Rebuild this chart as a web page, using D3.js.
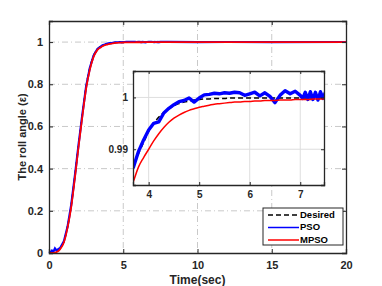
<!DOCTYPE html>
<html>
<head>
<meta charset="utf-8">
<script src="https://cdn.jsdelivr.net/npm/d3@7"></script>
<style>
  body { margin: 0; background: #fff; }
  text { font-family: "Liberation Sans", Arial, sans-serif; }
</style>
</head>
<body>
<div id="chart"></div>
<script>
// time samples (sec)
var time = [0, 0.1, 0.2, 0.3, 0.4, 0.5, 0.75, 1, 1.25, 1.5, 1.75, 2, 2.25, 2.5, 2.75, 3, 3.25, 3.5,
    3.6, 3.7, 3.8, 3.9, 4.0, 4.1, 4.2, 4.3, 4.4, 4.5, 4.6, 4.7, 4.8, 4.9, 5.0, 5.1, 5.2, 5.3, 5.4, 5.5,
    5.6, 5.7, 5.8, 5.9, 6.0, 6.1, 6.2, 6.3, 6.4, 6.5, 6.6, 6.7, 6.8, 6.9, 7.0,
    7.05, 7.1, 7.15, 7.2, 7.25, 7.3, 7.35, 7.4, 7.45, 7.5, 8, 10, 12, 15, 20];

var desired = [0, 0.0002, 0.001, 0.002, 0.004, 0.007, 0.022, 0.055, 0.125, 0.23, 0.37, 0.52, 0.66, 0.79, 0.878, 0.935, 0.966, 0.98,
    0.9840, 0.9866, 0.9892, 0.9913, 0.9935, 0.9950, 0.9962, 0.9971, 0.9978, 0.9984, 0.9988, 0.9991, 0.9993, 0.9995, 0.9996, 0.9997, 0.9997, 0.9998, 0.9998, 0.9998,
    0.9999, 0.9999, 0.9999, 0.9999, 0.9999, 0.9999, 0.9999, 0.9999, 0.9999, 0.9999, 0.9999, 0.9999, 0.9999, 0.9999, 0.9999,
    0.9999, 0.9999, 0.9999, 0.9999, 0.9999, 0.9999, 0.9999, 0.9999, 0.9999, 0.9999, 1, 1, 1, 1, 1];

var pso = [0, 0.004, 0.012, 0.006, 0.022, 0.012, 0.024, 0.055, 0.125, 0.23, 0.37, 0.52, 0.66, 0.79, 0.878, 0.936, 0.966, 0.98,
    0.9848, 0.9866, 0.9896, 0.9918, 0.9937, 0.9950, 0.9953, 0.9970, 0.9979, 0.9986, 0.9992, 0.9994, 0.9999, 0.9991, 0.9999, 1.0005, 1.0006, 1.0008, 1.0007, 1.0009,
    1.0008, 1.0010, 1.0009, 1.0004, 1.0007, 1.0010, 1.0003, 1.0009, 1.0002, 0.9990, 1.0004, 1.0013, 1.0007, 1.0012, 1.0004,
    0.9998, 1.0010, 0.9996, 1.0011, 0.9996, 1.0010, 0.9995, 1.0011, 0.9998, 1.0010, 1.0006, 1.0003, 1.0005, 1.0002, 1.0004];

var mpso = [0, 0, 0.0005, 0.001, 0.002, 0.004, 0.018, 0.05, 0.12, 0.22, 0.36, 0.51, 0.65, 0.78, 0.87, 0.93, 0.962, 0.976,
    0.9805, 0.9838, 0.9866, 0.9884, 0.9900, 0.9916, 0.9930, 0.9942, 0.9952, 0.9960, 0.9966, 0.9971, 0.9975, 0.9978, 0.9981, 0.9983, 0.9985, 0.9987, 0.9988, 0.9989,
    0.9990, 0.9991, 0.9991, 0.9992, 0.9992, 0.9993, 0.9993, 0.9994, 0.9994, 0.9994, 0.9995, 0.9995, 0.9995, 0.9996, 0.9996,
    0.9996, 0.9996, 0.9996, 0.9996, 0.9997, 0.9997, 0.9997, 0.9997, 0.9997, 0.9997, 0.9998, 0.9999, 1, 1, 1];

var xTicks = [0, 5, 10, 15, 20];
var yTicks = [0, 0.2, 0.4, 0.6, 0.8, 1];
var insetXTicks = [4, 5, 6, 7];
var insetYTicks = [0.99, 1];
var legendNames = ["Desired", "PSO", "MPSO"];

var width = 382, height = 286;
var axisColor = "#262626";

var svg = d3.select("#chart")
    .append("svg")
    .attr("width", width)
    .attr("height", height);

// ---- main axes ----
var x = d3.scaleLinear().domain([0, 20]).range([49, 346]);
var y = d3.scaleLinear().domain([0, 1.1]).range([253, 21]);

var seriesAll = time.map(function (t, i) {
    return { t: t, d: desired[i], p: pso[i], m: mpso[i] };
});

// grid (dash-dot)
svg.append("g").selectAll("line")
    .data(xTicks.slice(1, -1))
    .enter().append("line")
    .attr("x1", function (d) { return x(d); }).attr("x2", function (d) { return x(d); })
    .attr("y1", y(1.1)).attr("y2", y(0))
    .attr("stroke", "#c9c9c9").attr("stroke-width", 1)
    .attr("stroke-dasharray", "6,3,1,3");
svg.append("g").selectAll("line")
    .data(yTicks.slice(1))
    .enter().append("line")
    .attr("x1", x(0)).attr("x2", x(20))
    .attr("y1", function (d) { return y(d); }).attr("y2", function (d) { return y(d); })
    .attr("stroke", "#c9c9c9").attr("stroke-width", 1)
    .attr("stroke-dasharray", "6,3,1,3");

function lineFor(key, xs, ys, curve) {
    return d3.line()
        .x(function (d) { return xs(d.t); })
        .y(function (d) { return ys(d[key]); })
        .curve(curve);
}

svg.append("path").datum(seriesAll)
    .attr("d", lineFor("d", x, y, d3.curveMonotoneX))
    .attr("fill", "none").attr("stroke", "#000").attr("stroke-width", 1.5)
    .attr("stroke-dasharray", "5,3");
svg.append("path").datum(seriesAll)
    .attr("d", lineFor("p", x, y, d3.curveLinear))
    .attr("fill", "none").attr("stroke", "#0000ff").attr("stroke-width", 2.2);
svg.append("path").datum(seriesAll)
    .attr("d", lineFor("m", x, y, d3.curveMonotoneX))
    .attr("fill", "none").attr("stroke", "#ff0000").attr("stroke-width", 1.8);

// axes with inward ticks on all sides
svg.append("g").attr("transform", "translate(0," + y(0) + ")")
    .call(d3.axisBottom(x).tickValues(xTicks).tickSize(-4).tickPadding(8).tickFormat(d3.format("d")));
svg.append("g").attr("transform", "translate(0," + y(1.1) + ")")
    .call(d3.axisTop(x).tickValues(xTicks).tickSize(-4).tickFormat(""));
svg.append("g").attr("transform", "translate(" + x(0) + ",0)")
    .call(d3.axisLeft(y).tickValues(yTicks).tickSize(-4).tickPadding(6).tickFormat(function (d) { return d === 0 || d === 1 ? d : d.toFixed(1); }));
svg.append("g").attr("transform", "translate(" + x(20) + ",0)")
    .call(d3.axisRight(y).tickValues(yTicks).tickSize(-4).tickFormat(""));

svg.selectAll(".domain").attr("stroke", axisColor).attr("stroke-width", 1.3);
svg.selectAll(".tick line").attr("stroke", axisColor);
svg.selectAll(".tick text").attr("fill", axisColor)
    .style("font-size", "11px").style("font-weight", "bold")
    .style("font-family", "'Liberation Sans', Arial, sans-serif");

svg.append("text")
    .attr("x", (x(0) + x(20)) / 2).attr("y", 284)
    .attr("text-anchor", "middle")
    .attr("fill", axisColor)
    .style("font-size", "12px").style("font-weight", "bold")
    .text("Time(sec)");

svg.append("text")
    .attr("transform", "translate(26," + ((y(0) + y(1.1)) / 2) + ")rotate(-90)")
    .attr("text-anchor", "middle")
    .attr("fill", axisColor)
    .style("font-size", "11px").style("font-weight", "bold")
    .text("The roll angle (ε)");

// ---- inset ----
var ix = d3.scaleLinear().domain([3.69, 7.47]).range([133, 324]);
var iy = d3.scaleLinear().domain([0.9831, 1.0051]).range([185, 71]);

var inset = svg.append("g");
inset.append("rect")
    .attr("x", 133).attr("y", 71).attr("width", 324 - 133).attr("height", 185 - 71)
    .attr("fill", "#fff");

inset.append("clipPath").attr("id", "insetClip")
    .append("rect")
    .attr("x", 133).attr("y", 71).attr("width", 324 - 133).attr("height", 185 - 71);

inset.append("g").selectAll("line")
    .data(insetXTicks)
    .enter().append("line")
    .attr("x1", function (d) { return ix(d); }).attr("x2", function (d) { return ix(d); })
    .attr("y1", 71).attr("y2", 185)
    .attr("stroke", "#dedede").attr("stroke-width", 1);
inset.append("g").selectAll("line")
    .data(insetYTicks)
    .enter().append("line")
    .attr("x1", 133).attr("x2", 324)
    .attr("y1", function (d) { return iy(d); }).attr("y2", function (d) { return iy(d); })
    .attr("stroke", "#dedede").attr("stroke-width", 1);

var insetData = seriesAll.filter(function (d) { return d.t >= 3.5 && d.t <= 8; });
var plotG = inset.append("g").attr("clip-path", "url(#insetClip)");
plotG.append("path").datum(insetData)
    .attr("d", lineFor("d", ix, iy, d3.curveMonotoneX))
    .attr("fill", "none").attr("stroke", "#000").attr("stroke-width", 1.5)
    .attr("stroke-dasharray", "5,3");
plotG.append("path").datum(insetData)
    .attr("d", lineFor("p", ix, iy, d3.curveLinear))
    .attr("fill", "none").attr("stroke", "#0000ff").attr("stroke-width", 3.4)
    .attr("stroke-linejoin", "round");
plotG.append("path").datum(insetData)
    .attr("d", lineFor("m", ix, iy, d3.curveMonotoneX))
    .attr("fill", "none").attr("stroke", "#ff0000").attr("stroke-width", 1.5);

var insetAxes = inset.append("g");
insetAxes.append("g").attr("transform", "translate(0,185)")
    .call(d3.axisBottom(ix).tickValues(insetXTicks).tickSize(-3).tickPadding(6).tickFormat(d3.format("d")));
insetAxes.append("g").attr("transform", "translate(0,71)")
    .call(d3.axisTop(ix).tickValues(insetXTicks).tickSize(-3).tickFormat(""));
insetAxes.append("g").attr("transform", "translate(133,0)")
    .call(d3.axisLeft(iy).tickValues(insetYTicks).tickSize(-3).tickPadding(5).tickFormat(function (d) { return d === 1 ? "1" : "0.99"; }));
insetAxes.append("g").attr("transform", "translate(324,0)")
    .call(d3.axisRight(iy).tickValues(insetYTicks).tickSize(-3).tickFormat(""));
insetAxes.selectAll(".domain").attr("stroke", axisColor).attr("stroke-width", 1.3);
insetAxes.selectAll(".tick line").attr("stroke", axisColor);
insetAxes.selectAll(".tick text").attr("fill", axisColor)
    .style("font-size", "10px").style("font-weight", "bold")
    .style("font-family", "'Liberation Sans', Arial, sans-serif");

// ---- legend ----
var legend = svg.append("g");
legend.append("rect")
    .attr("x", 263).attr("y", 208).attr("width", 80).attr("height", 37)
    .attr("fill", "#fff").attr("stroke", axisColor).attr("stroke-width", 1);
var legendColors = ["#000", "#0000ff", "#ff0000"];
var legendDash = ["5,3", null, null];
legendNames.forEach(function (name, i) {
    var ly = 215 + i * 12.5;
    legend.append("line")
        .attr("x1", 268).attr("x2", 299).attr("y1", ly).attr("y2", ly)
        .attr("stroke", legendColors[i]).attr("stroke-width", 1.5)
        .attr("stroke-dasharray", legendDash[i]);
    legend.append("text")
        .attr("x", 300).attr("y", ly)
        .attr("dominant-baseline", "middle")
        .attr("fill", "#000")
        .style("font-size", "9.5px").style("font-weight", "bold")
        .text(name);
});
</script>
</body>
</html>
